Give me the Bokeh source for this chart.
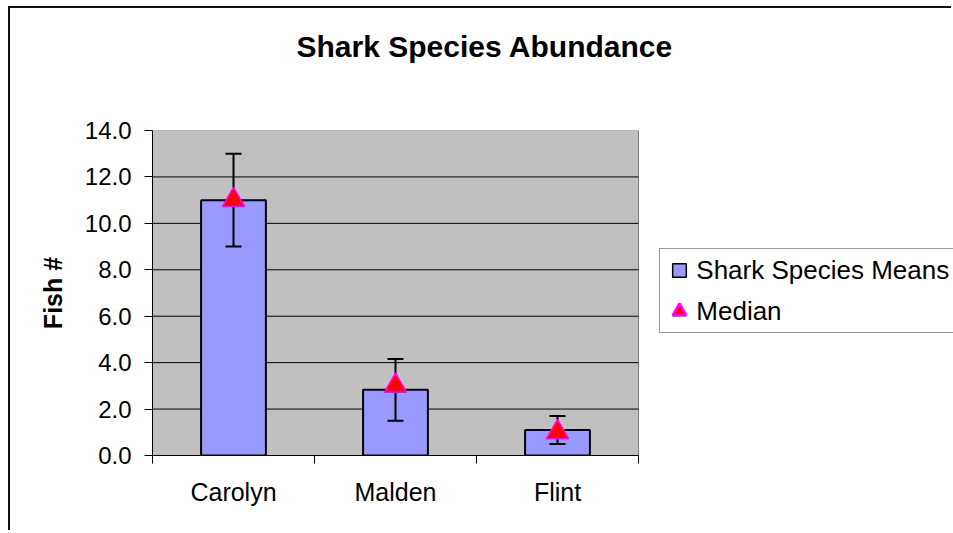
from bokeh.plotting import figure
from bokeh.models import (ColumnDataSource, Range1d, FixedTicker, PrintfTickFormatter,
                          Legend, LegendItem, Title)
from bokeh.embed import file_html
from bokeh.resources import INLINE

# ---- data ----
categories = ["Carolyn", "Malden", "Flint"]
means = [11.0, 2.83, 1.1]
errors = [2.0, 1.33, 0.6]
medians = [11.0, 3.0, 1.0]
y_ticks = [0, 2, 4, 6, 8, 10, 12, 14]
y_max = 14

FONT = "Liberation Sans"
BAR_FILL = "#9999ff"
MED_FILL = "#ff0000"
MED_LINE = "#ff00ff"
AREA_FILL = "#c0c0c0"

# layout (pixels): the frame runs to the right edge so the legend can sit in it
CANVAS_W, CANVAS_H = 943, 524
LEFT, TOP, BOTTOM = 142, 122, 77
AREA_W = 486                      # width of the grey plot area
FRAME_W = CANVAS_W - LEFT
n = len(categories)
x_end = n * FRAME_W / AREA_W

xc = [i + 0.5 for i in range(n)]
bounds = [float(i) for i in range(n + 1)]
src = ColumnDataSource(dict(
    x=xc, mean=means, med=medians,
    upper=[m + e for m, e in zip(means, errors)],
    lower=[m - e for m, e in zip(means, errors)],
))
grid_src = ColumnDataSource(dict(y=y_ticks[1:-1]))

p = figure(width=CANVAS_W, height=CANVAS_H, output_backend="svg",
           toolbar_location=None, title=None,
           x_range=Range1d(0, x_end), y_range=Range1d(0, y_max),
           min_border_left=LEFT, min_border_top=TOP, min_border_right=0,
           min_border_bottom=BOTTOM)
p.styles = {"margin-left": "8px", "margin-top": "6px",
            "border-left": "2px solid #111", "border-top": "2px solid #111"}

p.background_fill_color = "white"
p.border_fill_color = "white"
p.outline_line_color = None
p.xgrid.grid_line_color = None
p.ygrid.grid_line_color = None

# spacer between frame and title, then the title itself
p.add_layout(Title(text=" ", text_font_size="1px", standoff=60), "above")
p.add_layout(Title(text="Shark Species Abundance", text_font=FONT,
                   text_font_size="30px", text_font_style="bold",
                   text_color="black", align="left", offset=144,
                   standoff=10), "above")

# y axis
ya = p.yaxis[0]
ya.ticker = FixedTicker(ticks=y_ticks)
ya.formatter = PrintfTickFormatter(format="%.1f")
ya.major_tick_out = 8
ya.major_tick_in = 0
ya.minor_tick_out = 0
ya.minor_tick_in = 0
ya.major_label_standoff = 13
ya.major_label_text_font = FONT
ya.major_label_text_font_size = "24px"
ya.major_label_text_color = "black"
ya.axis_line_color = "black"
ya.major_tick_line_color = "black"
ya.axis_label = "Fish #"
ya.axis_label_text_font = FONT
ya.axis_label_text_font_size = "25px"
ya.axis_label_text_font_style = "bold"
ya.axis_label_text_color = "black"
ya.axis_label_standoff = 15

# x axis: labels at category centres, tick marks between categories
xa = p.xaxis[0]
xa.bounds = (0, n)
xa.ticker = FixedTicker(ticks=xc, minor_ticks=bounds)
xa.major_label_overrides = {x: c for x, c in zip(xc, categories)}
xa.major_tick_out = 0
xa.major_tick_in = 0
xa.minor_tick_out = 8
xa.minor_tick_in = 0
xa.minor_tick_line_color = "black"
xa.axis_line_color = "black"
xa.major_label_standoff = 14
xa.major_label_text_font = FONT
xa.major_label_text_font_size = "25px"
xa.major_label_text_color = "black"

# grey plot area and its grid lines
p.quad(left=0, right=n, bottom=0, top=y_max, fill_color=AREA_FILL,
       line_color="#808080", line_width=1)
p.segment(x0=0, x1=n, y0="y", y1="y", source=grid_src,
          line_color="black", line_width=1)

# bars
bars = p.vbar(x="x", top="mean", width=0.4, source=src, fill_color=BAR_FILL,
              line_color="black", line_width=2)
# error bars
p.segment(x0="x", y0="lower", x1="x", y1="upper", source=src,
          line_color="black", line_width=2)
p.scatter(x="x", y="upper", source=src, marker="dash", size=16,
          line_color="black", line_width=2)
p.scatter(x="x", y="lower", source=src, marker="dash", size=16,
          line_color="black", line_width=2)
# medians
tri = p.scatter(x="x", y="med", source=src, marker="triangle", size=22,
                fill_color=MED_FILL, line_color=MED_LINE, line_width=1.5)

# legend-only glyphs (hidden in the plot)
leg_sq = p.scatter(x="x", y="mean", source=src, marker="square",
                   fill_color=BAR_FILL, line_color="black", line_width=1.5,
                   visible=False)
leg_tri = p.scatter(x="x", y="med", source=src, marker="triangle",
                    fill_color=MED_FILL, line_color=MED_LINE, line_width=2.5,
                    visible=False)

legend = Legend(items=[LegendItem(label="Shark Species Means", renderers=[leg_sq]),
                       LegendItem(label="Median", renderers=[leg_tri])],
                location=(507.3, 121.7), margin=0, padding=2, spacing=3,
                glyph_width=34, glyph_height=38, label_standoff=-6,
                label_height=26, label_width=270,
                label_text_font=FONT, label_text_font_size="26px",
                label_text_color="black",
                border_line_color="#333333", border_line_width=1,
                background_fill_color="white", background_fill_alpha=1)
p.add_layout(legend)

open("out.html", "w").write(file_html(p, INLINE))
